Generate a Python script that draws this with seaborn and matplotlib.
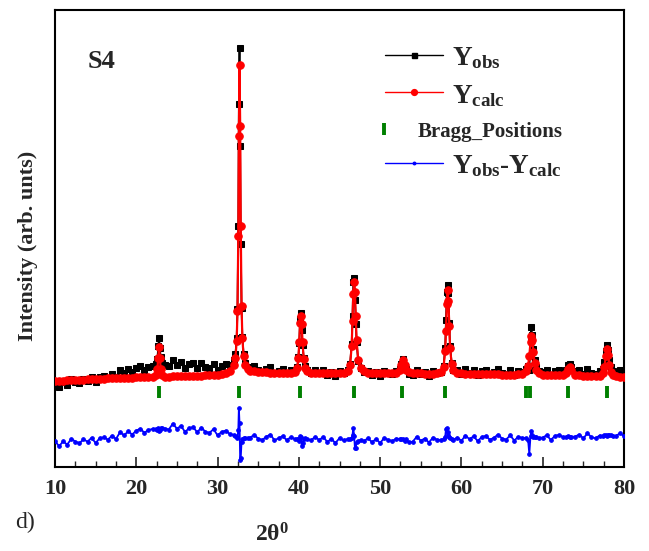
import matplotlib
matplotlib.use("Agg")
import matplotlib.pyplot as plt
import numpy as np
import pandas as pd
import seaborn as sns
from matplotlib.ticker import MultipleLocator

# ---------------- data ----------------
two_theta = [
    10.0, 10.5, 11.0, 11.5, 12.0, 12.5, 13.0, 13.5, 14.0, 14.5, 15.0, 15.5,
    16.0, 16.5, 17.0, 17.5, 18.0, 18.5, 19.0, 19.5, 20.0, 20.5, 21.0, 21.5,
    22.0, 22.4, 22.6, 22.7, 22.8, 22.9, 23.0, 23.2, 23.5,
    24.0, 24.5, 25.0, 25.5, 26.0, 26.5, 27.0, 27.5, 28.0, 28.5, 29.0, 29.5,
    30.0, 30.5, 31.0,
    31.5, 32.0, 32.2, 32.35, 32.45, 32.55, 32.62, 32.7, 32.78, 32.85, 32.95,
    33.05, 33.2, 33.4, 33.7, 34.0,
    34.5, 35.0, 35.5, 36.0, 36.5, 37.0, 37.5, 38.0, 38.5, 39.0,
    39.5, 39.8, 39.95, 40.05, 40.15, 40.25, 40.35, 40.45, 40.6, 40.8, 41.0,
    41.5, 42.0, 42.5, 43.0, 43.5, 44.0, 44.5, 45.0, 45.5,
    46.0, 46.3, 46.5, 46.6, 46.7, 46.8, 46.9, 47.0, 47.1, 47.3, 47.6, 48.0,
    48.5, 49.0, 49.5, 50.0, 50.5, 51.0, 51.5,
    52.0, 52.4, 52.6, 52.8, 53.0, 53.2, 53.5,
    54.0, 54.5, 55.0, 55.5, 56.0, 56.5, 57.0,
    57.5, 57.8, 58.0, 58.1, 58.2, 58.3, 58.4, 58.5, 58.6, 58.8, 59.0,
    59.5, 60.0, 60.5, 61.0, 61.5, 62.0, 62.5, 63.0, 63.5, 64.0, 64.5, 65.0,
    65.5, 66.0, 66.5, 67.0,
    67.5, 68.0, 68.2, 68.35, 68.5, 68.6, 68.7, 68.85, 69.0, 69.2, 69.5,
    70.0, 70.5, 71.0, 71.5, 72.0,
    72.5, 72.9, 73.1, 73.3, 73.5, 74.0,
    74.5, 75.0, 75.5, 76.0, 76.5,
    77.0, 77.4, 77.6, 77.75, 77.9, 78.05, 78.2, 78.4, 78.7, 79.0,
    79.5, 80.0,
]

y_obs = [
    84, 79, 84, 81, 87, 84.5, 83, 87, 85, 89, 84, 89,
    90, 88, 92, 89, 96, 93, 97, 94, 98, 100, 96, 99,
    100, 102, 107, 120, 128, 118, 109, 103, 101,
    100, 106, 101, 104, 98, 102, 103, 98, 103, 99, 98, 102,
    96, 100, 102,
    101, 106, 112, 128, 157, 240, 362, 418, 320, 222, 158,
    129, 112, 103, 99, 98,
    100, 96, 94, 97, 99, 93, 95, 97, 93, 96,
    95, 99, 109, 123, 147, 153, 136, 121, 108, 100, 96,
    93, 96, 93, 96, 91, 94, 90, 95, 93,
    96, 102, 122, 150, 184, 188, 166, 142, 124, 105, 98, 94,
    95, 91, 94, 90, 95, 93, 92,
    95, 97, 102, 107, 100, 97, 92,
    91, 96, 92, 94, 90, 95, 93,
    94, 100, 118, 146, 174, 181, 173, 143, 120, 103, 96,
    96, 92, 97, 93, 96, 91, 95, 96, 92, 94, 97, 93,
    92, 96, 91, 95,
    94, 97, 100, 96, 128, 139, 131, 117, 106, 99, 95,
    94, 96, 91, 95, 96,
    94, 96, 101, 102, 99, 95,
    96, 92, 97, 93, 92,
    95, 97, 104, 115, 121, 116, 106, 99, 95, 94,
    96, 93,
]

y_calc = [
    85.0, 85.2, 85.4, 85.6, 85.8, 86.0, 86.2, 86.4, 86.6, 86.8, 87.0, 87.2,
    87.4, 87.6, 87.8, 88.0, 88.2, 88.3, 88.4, 88.5, 88.6, 88.7, 88.8, 88.9,
    89.0, 91.0, 97.0, 108.0, 119.0, 108.0, 97.0, 91.0, 89.5,
    89.5, 89.6, 89.7, 89.8, 90.0, 90.1, 90.2, 90.3, 90.5, 90.7, 90.9, 91.1,
    91.4, 91.8, 92.6,
    95.0, 101.0, 108.0, 125.0, 155.0, 230.0, 330.0, 401.0, 340.0, 240.0, 160.0,
    128.0, 110.0, 101.0, 97.0, 95.5,
    95.0, 94.5, 94.0, 93.7, 93.5, 93.3, 93.2, 93.1, 93.1, 93.2,
    94.0, 98.0, 108.0, 124.0, 143.0, 150.0, 142.0, 124.0, 107.0, 98.0, 95.0,
    93.2, 93.0, 93.0, 92.9, 92.9, 92.9, 93.0, 93.1, 93.4,
    95.0, 101.0, 120.0, 145.0, 172.0, 184.0, 174.0, 150.0, 126.0, 106.0, 98.0, 95.0,
    93.3, 93.1, 93.0, 93.0, 92.9, 92.9, 93.0,
    93.5, 96.0, 101.0, 106.0, 101.0, 96.0, 94.0,
    92.8, 92.7, 92.6, 92.5, 92.5, 92.5, 92.7,
    94.0, 99.0, 115.0, 135.0, 162.0, 176.0, 165.0, 140.0, 118.0, 102.0, 96.0,
    93.5, 92.8, 92.5, 92.3, 92.2, 92.1, 92.0, 91.9, 91.8, 91.7, 91.6, 91.5,
    91.5, 91.4, 91.5, 91.7,
    92.0, 95.0, 100.0, 110.0, 124.0, 130.0, 126.0, 114.0, 103.0, 96.0, 93.0,
    91.5, 91.2, 91.0, 90.9, 90.9,
    91.0, 93.0, 97.0, 99.0, 96.0, 91.5,
    90.6, 90.4, 90.3, 90.2, 90.3,
    90.5, 93.0, 99.0, 110.0, 117.0, 111.0, 101.0, 94.0, 91.0, 90.0,
    89.3, 89.0,
]

bragg_positions = [22.75, 32.65, 40.15, 46.75, 52.75, 58.0, 68.0, 68.45, 73.15, 77.85]
x_ticks = [10, 20, 30, 40, 50, 60, 70, 80]

# ---------------- style ----------------
sns.set_style("ticks")
plt.rcParams["font.family"] = ["Liberation Serif", "DejaVu Serif"]
plt.rcParams["font.weight"] = "bold"
plt.rcParams["mathtext.fontset"] = "custom"
plt.rcParams["mathtext.rm"] = "Liberation Serif:bold"
plt.rcParams["mathtext.it"] = "Liberation Serif:bold"
plt.rcParams["mathtext.bf"] = "Liberation Serif:bold"

df = pd.DataFrame({"two_theta": two_theta, "obs": y_obs, "calc": y_calc})
diff_offset = 26
df["diff"] = df["obs"] - df["calc"] + diff_offset
bragg_level = 74
df_bragg = pd.DataFrame({"pos": bragg_positions, "level": [bragg_level] * len(bragg_positions)})

fig = plt.figure(figsize=(6.49, 5.51), dpi=100)
ax = fig.add_axes([55 / 649, 84 / 551, 569 / 649, 457.5 / 551])

sns.lineplot(data=df, x="two_theta", y="obs", ax=ax, color="black", lw=1.3,
             marker="s", markersize=4.6, markeredgecolor="black",
             estimator=None, sort=False, zorder=2)
sns.lineplot(data=df, x="two_theta", y="calc", ax=ax, color="#ff0000", lw=1.6,
             marker="o", markersize=5.4, markeredgecolor="#ff0000",
             estimator=None, sort=False, zorder=3)
sns.lineplot(data=df, x="two_theta", y="diff", ax=ax, color="#0000ff", lw=1.3,
             marker="o", markersize=2.6, markeredgecolor="#0000ff",
             estimator=None, sort=False, zorder=3)
sns.scatterplot(data=df_bragg, x="pos", y="level", ax=ax, marker="|", s=75,
                linewidth=2.8, color="#008000", zorder=4)

ax.set_xlim(10, 80)
ax.set_ylim(-1, 456.5)
ax.set_xticks(x_ticks)
ax.xaxis.set_minor_locator(MultipleLocator(2.5))
ax.set_yticks([])
ax.tick_params(axis="x", which="major", direction="in", length=7, width=1.2,
               labelsize=16, pad=9, top=False)
ax.tick_params(axis="x", which="minor", direction="in", length=4, width=1.0, top=False)
for lab in ax.get_xticklabels():
    lab.set_fontweight("bold")
for sp in ax.spines.values():
    sp.set_visible(True)
    sp.set_linewidth(1.5)
    sp.set_color("black")
ax.set_xlabel("")
ax.set_ylabel("")

# sample name
ax.text(0.058, 0.872, "S4", transform=ax.transAxes, fontsize=19, fontweight="bold",
        ha="left", va="baseline")

# manual legend (Origin style)
tr = ax.transAxes
x0, x1, xm, xt = 0.580, 0.682, 0.631, 0.698
ax.plot([x0, x1], [0.9005, 0.9005], transform=tr, color="black", lw=1.0, clip_on=False)
ax.plot([xm], [0.9005], transform=tr, marker="s", color="black", markersize=3.6, clip_on=False)
ax.text(xt, 0.8787, "$Y_{obs}$", transform=tr, fontsize=19.5, ha="left", va="baseline")

ax.plot([x0, x1], [0.8197, 0.8197], transform=tr, color="#ff0000", lw=1.0, clip_on=False)
ax.plot([xm], [0.8197], transform=tr, marker="o", color="#ff0000", markersize=4.2, clip_on=False)
ax.text(xt, 0.7956, "$Y_{calc}$", transform=tr, fontsize=19.5, ha="left", va="baseline")

ax.plot([0.578], [0.7388], transform=tr, marker="|", color="#008000", markersize=8.5,
        markeredgewidth=2.8, clip_on=False)
ax.text(0.638, 0.7213, "Bragg_Positions", transform=tr, fontsize=15, fontweight="bold",
        ha="left", va="baseline")

ax.plot([x0, x1], [0.6645, 0.6645], transform=tr, color="#0000ff", lw=1.0, clip_on=False)
ax.plot([xm], [0.6645], transform=tr, marker="o", color="#0000ff", markersize=1.8, clip_on=False)
ax.text(xt, 0.6426, "$Y_{obs}$-$Y_{calc}$", transform=tr, fontsize=19.5, ha="left", va="baseline")

# axis titles
fig.text(272 / 649, (551 - 542) / 551, "2θ$^{0}$", fontsize=17, fontweight="bold",
         ha="center", va="baseline")
fig.text(28 / 649, (551 - 246) / 551, "Intensity (arb. unts)", rotation=90, fontsize=16,
         fontweight="bold", ha="center", va="center")
fig.text(15 / 649, (551 - 528) / 551, "d)", fontsize=17, fontweight="normal",
         ha="left", va="baseline")

fig.savefig("out.png", dpi=100)
